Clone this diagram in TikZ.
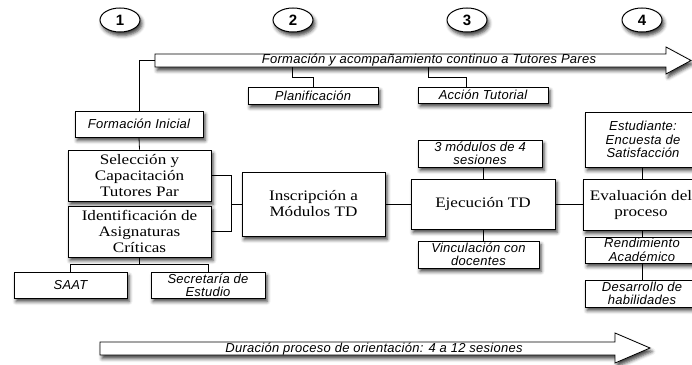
\documentclass[tikz,border=0pt]{standalone}
\usepackage{fontspec}
\setmainfont{Liberation Serif}[FakeStretch=1.18]
\newfontfamily\lsans{Liberation Sans}
\newfontfamily\lsansit{Liberation Sans Italic}[LetterSpace=2]
\usetikzlibrary{shapes.geometric,shadows.blur,calc}
\tikzset{
  shd/.style={blur shadow={shadow xshift=2pt, shadow yshift=-3.5pt, shadow blur radius=3.5pt, shadow opacity=75}},
  bx/.style={draw, fill=white, line width=0.8pt, inner sep=0pt, align=center, shd},
  ital/.style={font=\fontsize{13}{13.3}\selectfont\lsansit},
  serif/.style={font=\fontsize{14.5}{16}\selectfont},
  num/.style={ellipse, draw, fill=white, line width=1pt, minimum width=40pt, minimum height=24pt, inner sep=0pt,
    font=\fontsize{15}{15}\selectfont\lsans\bfseries, shd},
  conn/.style={line width=0.8pt},
  arr/.style={draw, fill=white, line width=0.8pt, shd}
}
\begin{document}
\begin{tikzpicture}[x=1pt,y=-1pt]
\useasboundingbox (0,0) rectangle (692,364);
% step numbers
\node[num] (n1) at (120,20) {1};
\node[num] (n2) at (293,20) {2};
\node[num] (n3) at (467,20) {3};
\node[num] (n4) at (642,20) {4};
% top arrow
\path[arr] (155,54) -- (666,54) -- (666,47) -- (691,60.5) -- (666,74) -- (666,67) -- (155,67) -- cycle;
\coordinate (aL) at (155,60.5);
\coordinate (p1) at (292,67);
\coordinate (p2) at (428,67);
\node[ital] (toptxt) at (429,60.5) {Formación y acompañamiento continuo a Tutores Pares};
% bottom arrow
\path[arr] (100,342) -- (615,342) -- (615,333) -- (650,348) -- (615,363) -- (615,355) -- (100,355) -- cycle;
\node[ital] (bottxt) at (374,349) {Duración proceso de orientación: 4 a 12 sesiones};
% boxes
\node[bx, ital, minimum width=130pt, minimum height=17pt] (plan) at (313,95.5) {Planificación};
\node[bx, ital, minimum width=130pt, minimum height=16pt] (acc) at (483,95) {Acción Tutorial};
\node[bx, ital, minimum width=128pt, minimum height=26pt] (fi) at (139,124) {Formación Inicial};
\node[bx, serif, minimum width=143pt, minimum height=51pt] (sel) at (139.5,175.5) {Selección y\\Capacitación\\Tutores Par};
\node[bx, serif, minimum width=143pt, minimum height=51pt] (ide) at (139.5,231.5) {Identificación de\\Asignaturas\\Críticas};
\node[bx, ital, minimum width=113pt, minimum height=26pt] (saat) at (70.5,285) {SAAT};
\node[bx, ital, minimum width=114pt, minimum height=26pt] (sec) at (208,285) {Secretaría de\\Estudio};
\node[bx, serif, minimum width=143pt, minimum height=64pt] (ins) at (313.5,204) {Inscripción a\\Módulos TD};
\node[bx, serif, minimum width=144pt, minimum height=50pt] (eje) at (483,204) {Ejecución TD};
\node[bx, ital, minimum width=124pt, minimum height=27pt] (mod) at (480,153.5) {3 módulos de 4\\sesiones};
\node[bx, ital, minimum width=121pt, minimum height=27pt] (vin) at (478.5,254.5) {Vinculación con\\docentes};
\node[bx, serif, minimum width=116pt, minimum height=51pt] (eva) at (641,204.5) {Evaluación del\\proceso};
\node[bx, ital, minimum width=116pt, minimum height=55pt] (est) at (643,139.5) {Estudiante:\\Encuesta de\\Satisfacción};
\node[bx, ital, minimum width=114pt, minimum height=26pt] (ren) at (642,250) {Rendimiento\\Académico};
\node[bx, ital, minimum width=114pt, minimum height=27pt] (des) at (642,293.5) {Desarrollo de\\habilidades};
% connectors
\draw[conn] (aL) -| (fi.north);
\draw[conn] (p1) -- ++(0,10) -| (plan.north);
\draw[conn] (p2) -- ++(0,10.5) -| ($(acc.north)+(-17,0)$);
\draw[conn] (fi.south) -- (sel.north);
\draw[conn] (sel.east) -- ++(20,0) |- (ide.east);
\draw[conn] (ins.west) -- ++(-11,0);
\draw[conn] (ide.south) -- ++(0,7) coordinate (b);
\draw[conn] (saat.north) |- (b) -| (sec.north);
\draw[conn] (ins.east) -- (eje.west);
\draw[conn] (eje.east) -- (eje.east -| eva.west);
\draw[conn] (eje.north) -- (eje.north |- mod.south);
\draw[conn] (eje.south) -- (eje.south |- vin.north);
\draw[conn] (est.south -| ren.north) -- (eva.north -| ren.north);
\draw[conn] (eva.south -| ren.north) -- (ren.north);
\draw[conn] (ren.south) -- (des.north);
\end{tikzpicture}
\end{document}
